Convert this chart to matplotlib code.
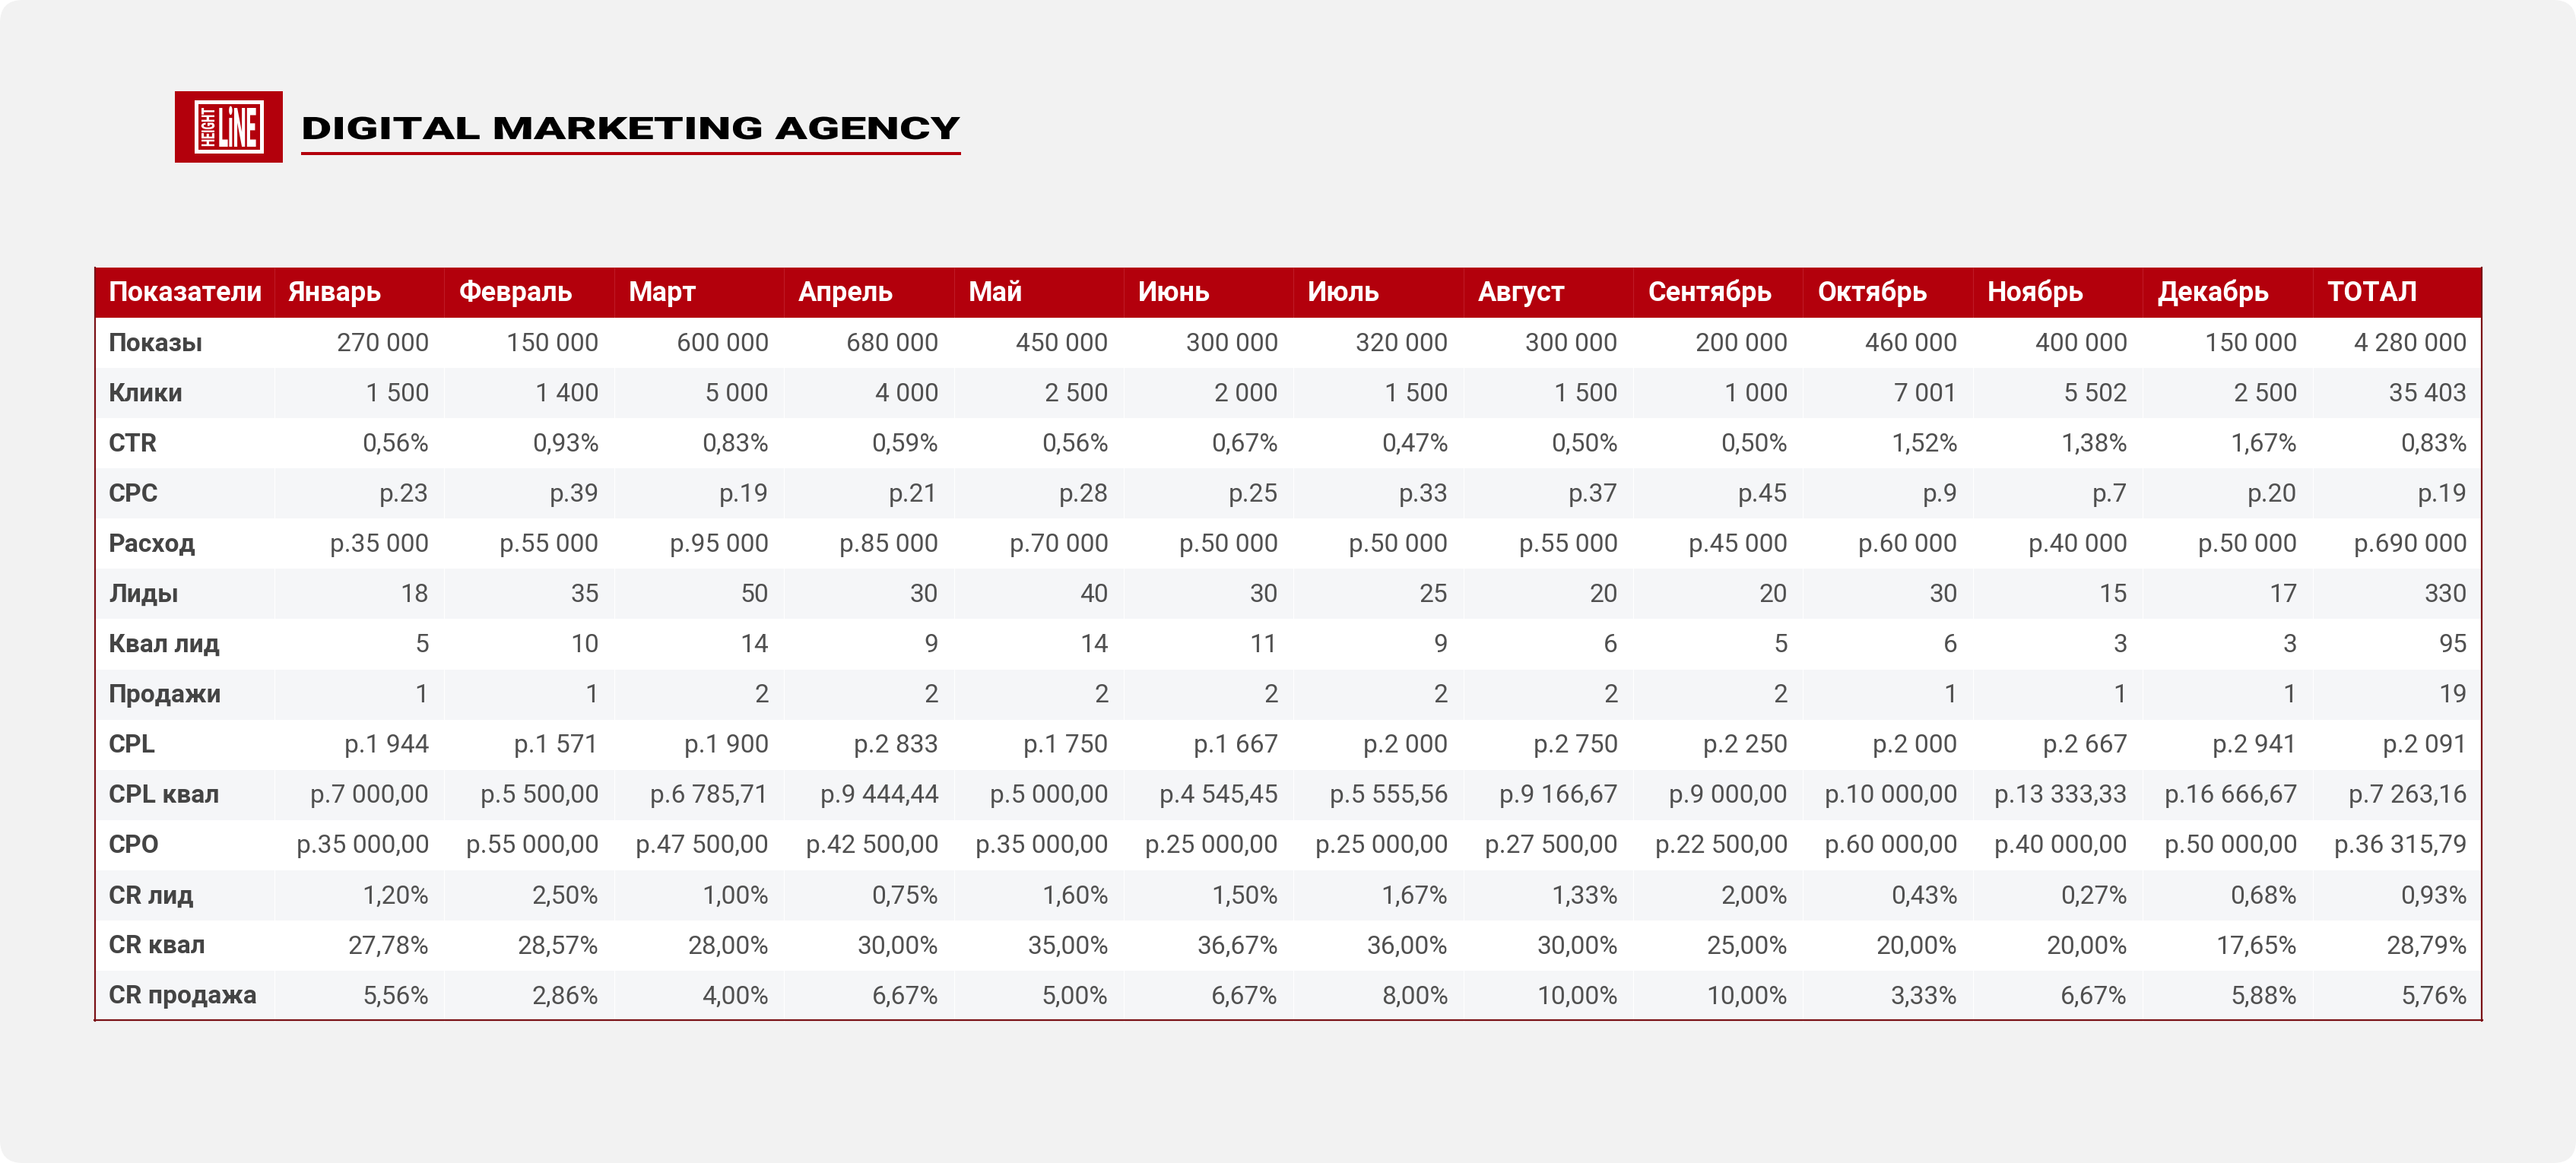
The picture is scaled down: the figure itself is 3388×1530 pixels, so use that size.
import matplotlib
matplotlib.use("Agg")
import matplotlib.pyplot as plt
from matplotlib.patches import Rectangle, FancyBboxPatch
from matplotlib import patheffects
from matplotlib.transforms import Affine2D

# ---------------- data ----------------
header = ["Показатели", "Январь", "Февраль", "Март", "Апрель", "Май", "Июнь",
          "Июль", "Август", "Сентябрь", "Октябрь", "Ноябрь", "Декабрь", "ТОТАЛ"]
row_labels = ["Показы", "Клики", "CTR", "CPC", "Расход", "Лиды", "Квал лид",
              "Продажи", "CPL", "CPL квал", "CPO", "CR лид", "CR квал", "CR продажа"]

shows = [270000, 150000, 600000, 680000, 450000, 300000, 320000, 300000, 200000, 460000, 400000, 150000, 4280000]
clicks = [1500, 1400, 5000, 4000, 2500, 2000, 1500, 1500, 1000, 7001, 5502, 2500, 35403]
ctr = [0.56, 0.93, 0.83, 0.59, 0.56, 0.67, 0.47, 0.50, 0.50, 1.52, 1.38, 1.67, 0.83]
cpc = [23, 39, 19, 21, 28, 25, 33, 37, 45, 9, 7, 20, 19]
spend = [35000, 55000, 95000, 85000, 70000, 50000, 50000, 55000, 45000, 60000, 40000, 50000, 690000]
leads = [18, 35, 50, 30, 40, 30, 25, 20, 20, 30, 15, 17, 330]
qual_leads = [5, 10, 14, 9, 14, 11, 9, 6, 5, 6, 3, 3, 95]
sales = [1, 1, 2, 2, 2, 2, 2, 2, 2, 1, 1, 1, 19]
cpl = [1944, 1571, 1900, 2833, 1750, 1667, 2000, 2750, 2250, 2000, 2667, 2941, 2091]
cpl_qual = [7000.00, 5500.00, 6785.71, 9444.44, 5000.00, 4545.45, 5555.56, 9166.67, 9000.00, 10000.00, 13333.33, 16666.67, 7263.16]
cpo = [35000.00, 55000.00, 47500.00, 42500.00, 35000.00, 25000.00, 25000.00, 27500.00, 22500.00, 60000.00, 40000.00, 50000.00, 36315.79]
cr_lead = [1.20, 2.50, 1.00, 0.75, 1.60, 1.50, 1.67, 1.33, 2.00, 0.43, 0.27, 0.68, 0.93]
cr_qual = [27.78, 28.57, 28.00, 30.00, 35.00, 36.67, 36.00, 30.00, 25.00, 20.00, 20.00, 17.65, 28.79]
cr_sale = [5.56, 2.86, 4.00, 6.67, 5.00, 6.67, 8.00, 10.00, 10.00, 3.33, 6.67, 5.88, 5.76]

title_text = "DIGITAL MARKETING AGENCY"
logo_small = "HEIGHT"
logo_big = "LiNE"


# ---------------- formatting ----------------
def f_int(v):
    return f"{v:,}".replace(",", " ")


def f_dec(v):
    return f"{v:,.2f}".replace(",", " ").replace(".", ",")


def f_pct(v):
    return f"{v:.2f}".replace(".", ",") + "%"


def f_rub(v):
    return "р." + f_int(v)


def f_rub_dec(v):
    return "р." + f_dec(v)


rows = [
    [f_int(v) for v in shows],
    [f_int(v) for v in clicks],
    [f_pct(v) for v in ctr],
    [f_rub(v) for v in cpc],
    [f_rub(v) for v in spend],
    [f_int(v) for v in leads],
    [f_int(v) for v in qual_leads],
    [f_int(v) for v in sales],
    [f_rub(v) for v in cpl],
    [f_rub_dec(v) for v in cpl_qual],
    [f_rub_dec(v) for v in cpo],
    [f_pct(v) for v in cr_lead],
    [f_pct(v) for v in cr_qual],
    [f_pct(v) for v in cr_sale],
]


class Stretch(patheffects.AbstractPathEffect):
    """Scale glyph outlines in text space (relative to the text's baseline origin)."""

    def __init__(self, sx=1.0, sy=1.0):
        super().__init__(offset=(0, 0))
        self.sx, self.sy = sx, sy

    def draw_path(self, renderer, gc, tpath, affine, rgbFace=None):
        renderer.draw_path(gc, tpath, Affine2D().scale(self.sx, self.sy) + affine, rgbFace)


# ---------------- figure ----------------
W, H = 3388, 1530
DPI = 100
PX = 72 / DPI  # points per pixel
fig = plt.figure(figsize=(W / DPI, H / DPI), dpi=DPI, facecolor="white")
ax = fig.add_axes([0, 0, 1, 1])
ax.set_xlim(0, W)
ax.set_ylim(H, 0)
ax.axis("off")

RED = "#b3000c"
BORDER = "#7a1015"
ALT = "#f5f6f8"

ax.add_patch(FancyBboxPatch((0, 0), W, H, boxstyle="round,pad=0,rounding_size=30",
                            facecolor="#f2f2f2", edgecolor="none", zorder=0))

# logo
ax.add_patch(Rectangle((230, 120), 142, 94, facecolor=RED, edgecolor="none", zorder=1))
ax.add_patch(Rectangle((256, 132), 91, 70, facecolor="white", edgecolor="none", zorder=2))
ax.add_patch(Rectangle((261, 137), 81, 60, facecolor=RED, edgecolor="none", zorder=3))
t_height = ax.text(282, 193, logo_small, rotation=90, rotation_mode="anchor", ha="left",
                   va="baseline", color="white", fontsize=10, fontweight="heavy",
                   family="Roboto", zorder=4)
t_line = ax.text(287, 193, logo_big, ha="left", va="baseline", color="white",
                 fontsize=20, fontweight="heavy", family="Roboto", zorder=4)

# title
t_title = ax.text(396, 183, title_text, ha="left", va="baseline", color="black",
                  fontsize=29.4, fontweight="heavy", family="Roboto", zorder=4)
ax.plot([396, 1264], [202, 202], color=RED, lw=4 * PX, solid_capstyle="butt", zorder=4)

# ---------------- table ----------------
x_left = 124
x_first = 361
x_right = 3265
ncols = len(header) - 1
colw = (x_right - x_first) / ncols
edges = [x_left] + [x_first + k * colw for k in range(ncols + 1)]
y_top = 352
y_head = 418
y_bot = 1343
rowh = (y_bot - y_head) / len(row_labels)

FS_HEAD = 26.0
FS_BODY = 24.2
pad_l, pad_r = 19, 20

ax.add_patch(Rectangle((x_left, y_top), x_right - x_left, y_head - y_top,
                       facecolor=RED, edgecolor="none", zorder=1))
for i in range(len(row_labels)):
    y0 = y_head + i * rowh
    ax.add_patch(Rectangle((x_left, y0), x_right - x_left, rowh,
                           facecolor="white" if i % 2 == 0 else ALT, edgecolor="none", zorder=1))

# faint column separators
for xe in edges[1:-1]:
    ax.plot([xe, xe], [y_top, y_head], color="#bf1a26", lw=0.8, zorder=2)
    ax.plot([xe, xe], [y_head, y_bot], color="#ffffff", lw=0.8, zorder=2)

# header text
yb_head = (y_top + y_head) / 2 + 11
for j, h in enumerate(header):
    ax.text(edges[j] + pad_l, yb_head, h, ha="left", va="baseline", color="white",
            fontsize=FS_HEAD, fontweight="bold", family="Roboto", zorder=5)

# body text
for i, lab in enumerate(row_labels):
    yb = y_head + (i + 0.5) * rowh + 10.5
    ax.text(edges[0] + pad_l, yb, lab, ha="left", va="baseline", color="#444444",
            fontsize=FS_BODY, fontweight="bold", family="Roboto", zorder=5)
    for j, val in enumerate(rows[i]):
        ax.text(edges[j + 2] - pad_r, yb, val, ha="right", va="baseline", color="#505050",
                fontsize=FS_BODY, family="Roboto", zorder=5)

# borders
lwb = 2.2 * PX
ax.plot([x_left + 1, x_left + 1], [y_top, y_bot], color=BORDER, lw=lwb, zorder=6)
ax.plot([x_right - 1, x_right - 1], [y_top, y_bot], color=BORDER, lw=lwb, zorder=6)
ax.plot([x_left, x_right], [y_bot - 1, y_bot - 1], color=BORDER, lw=lwb, zorder=6)

# ---- fit logo / title texts to the reference proportions ----
fig.canvas.draw()
r = fig.canvas.get_renderer()
CAPF = 0.711 * DPI / 72  # cap height in px per point of font size

# title: natural height, stretched horizontally to the reference width
bb = t_title.get_window_extent(r)
t_title.set_path_effects([Stretch(sx=868 / bb.width)])

# "HEIGHT": natural length 51 px, stretched across to 17 px cap height
bb = t_height.get_window_extent(r)
fs = 10 * 51 / bb.height
t_height.set_fontsize(fs)
t_height.set_path_effects([Stretch(sy=17 / (CAPF * fs))])

# "LiNE": natural width 50 px, stretched vertically to 51 px cap height
bb = t_line.get_window_extent(r)
fs = 20 * 50 / bb.width
t_line.set_fontsize(fs)
t_line.set_path_effects([Stretch(sy=51 / (CAPF * fs))])

fig.savefig("out.png", dpi=DPI, facecolor="white")
